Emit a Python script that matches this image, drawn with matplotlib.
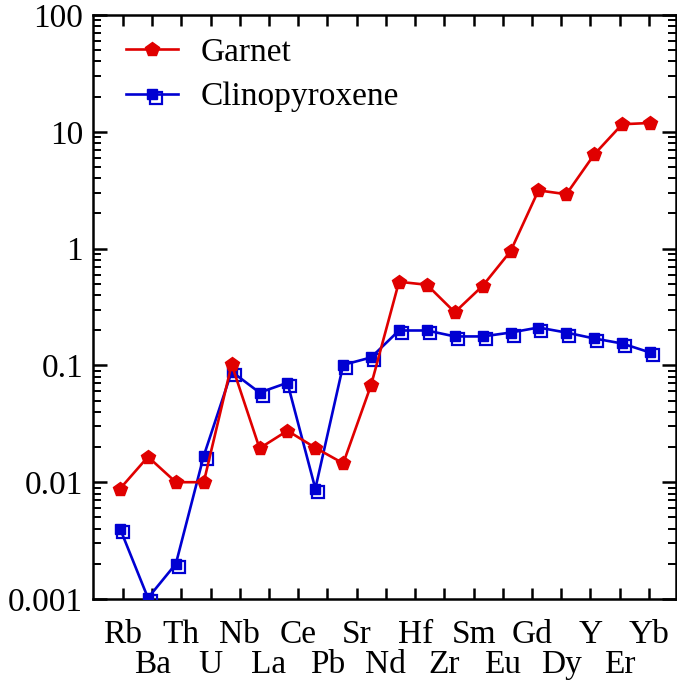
import numpy as np
import matplotlib
matplotlib.use("Agg")
import matplotlib.pyplot as plt
import matplotlib.transforms as mtransforms
from matplotlib.legend_handler import HandlerLine2D
from matplotlib.lines import Line2D

plt.rcParams['font.family'] = ['Liberation Serif', 'DejaVu Serif']

# element labels along the bottom axis
elements = ['Rb', 'Ba', 'Th', 'U', 'Nb', 'La', 'Ce', 'Pb', 'Sr', 'Nd',
            'Hf', 'Zr', 'Sm', 'Eu', 'Gd', 'Dy', 'Y', 'Er', 'Yb']

# partition coefficients (20 measured values per mineral)
garnet = [0.0088, 0.0165, 0.0100, 0.0100, 0.102, 0.0195, 0.0276, 0.0197,
          0.0145, 0.068, 0.52, 0.49, 0.285, 0.48, 0.95, 3.15, 2.92, 6.4,
          11.6, 11.9]
cpx = [0.0040, 0.00102, 0.0020, 0.0168, 0.0885, 0.0585, 0.071, 0.0088,
       0.101, 0.117, 0.199, 0.199, 0.177, 0.177, 0.191, 0.211, 0.191,
       0.170, 0.154, 0.129]

red = '#e00000'
blue = '#0000d2'

fig = plt.figure(figsize=(6.77, 6.81), dpi=100)
ax = fig.add_axes([0.137, 0.1204, 0.8615, 0.8576])

x = np.arange(len(garnet))

# open squares drawn a few pixels down-right of the filled ones
shift = mtransforms.ScaledTranslation(0.03, -0.03, fig.dpi_scale_trans)

ax.plot(x, cpx, color=blue, lw=1.9, zorder=2)
ax.plot(x, cpx, ls='none', marker='s', ms=8, mfc='none', mec=blue,
        mew=1.6, transform=ax.transData + shift, zorder=3)
ax.plot(x, cpx, ls='none', marker='s', ms=7.5, color=blue, zorder=4)
ax.plot(x, garnet, color=red, lw=1.9, marker='p', ms=10, zorder=5)

ax.set_yscale('log')
ax.set_ylim(0.001, 100)
ax.set_xlim(-0.98, 19.93)

yt = [0.001, 0.01, 0.1, 1, 10, 100]
ax.set_yticks(yt, ['0.001', '0.01', '0.1', '1', '10', '100'])

tick_pos = np.linspace(0.1, 18.96, len(elements))
ax.set_xticks(tick_pos[::2], elements[::2])
ax.set_xticks(tick_pos[1::2], elements[1::2], minor=True)

ax.tick_params(axis='x', which='both', direction='in', length=8, width=1.8,
               top=True, labelsize=24)
ax.tick_params(axis='x', which='major', pad=15)
ax.tick_params(axis='x', which='minor', pad=36.5)
ax.tick_params(axis='y', which='major', direction='in', length=10, width=1.8,
               right=True, labelsize=24, pad=7)
ax.tick_params(axis='y', which='minor', direction='in', length=6, width=1.4,
               right=True)
for s in ax.spines.values():
    s.set_linewidth(1.8)


class ShiftedHandler(HandlerLine2D):
    def create_artists(self, legend, orig_handle, xdescent, ydescent,
                       width, height, fontsize, trans):
        arts = super().create_artists(legend, orig_handle, xdescent, ydescent,
                                      width, height, fontsize, trans)
        off = mtransforms.ScaledTranslation(0.04, -0.04,
                                            legend.figure.dpi_scale_trans)
        for a in arts:
            a.set_transform(trans + off)
        return arts


h_g = Line2D([], [], color=red, lw=1.9, marker='p', ms=10)
h_c = Line2D([], [], color=blue, lw=1.9, marker='s', ms=7.5)
h_o = Line2D([], [], ls='none', marker='s', ms=8, mfc='none', mec=blue,
             mew=1.6)
ax.legend([h_g, (h_c, h_o)], ['Garnet', 'Clinopyroxene'],
          handler_map={h_o: ShiftedHandler()},
          loc='upper left', bbox_to_anchor=(0.057, 0.962), frameon=False,
          fontsize=24, handlelength=1.55, handletextpad=0.7, labelspacing=0.42,
          borderpad=0, borderaxespad=0)

fig.savefig('out.png', dpi=100)
